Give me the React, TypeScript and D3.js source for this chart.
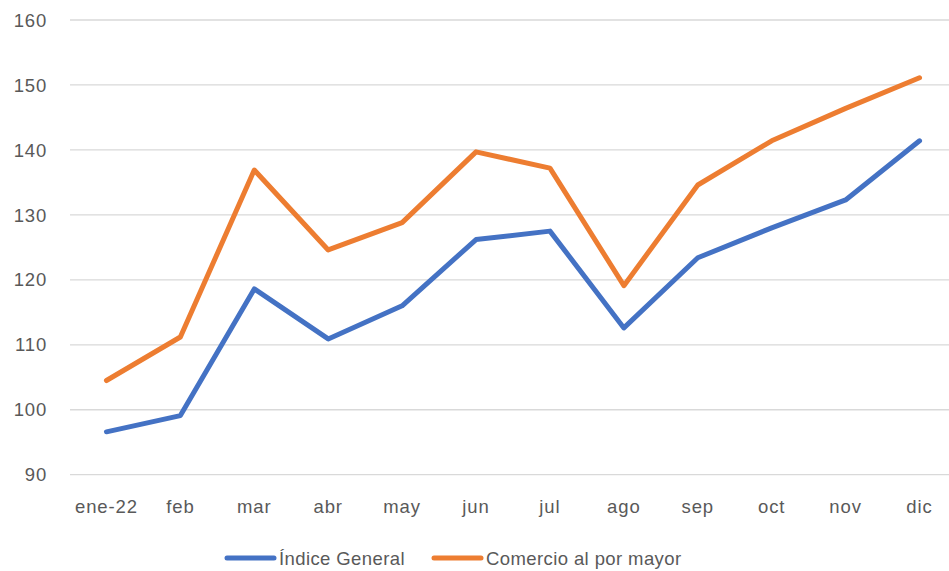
import React from "react";
import * as d3 from "d3";

const categories = ["ene-22", "feb", "mar", "abr", "may", "jun", "jul", "ago", "sep", "oct", "nov", "dic"];
const indiceGeneral = [96.6, 99.1, 118.6, 110.9, 116.0, 126.2, 127.5, 112.6, 123.4, 128.0, 132.3, 141.4];
const comercioMayor = [104.5, 111.2, 136.9, 124.6, 128.8, 139.7, 137.2, 119.1, 134.6, 141.4, 146.4, 151.1];
const yTicks = [90, 100, 110, 120, 130, 140, 150, 160];
const seriesNames = ["Índice General", "Comercio al por mayor"];

const W = 949;
const H = 571;
const FONT = "'Liberation Sans', Arial, sans-serif";
const TEXT = "#595959";

export default function App() {
  const x = d3.scalePoint<string>().domain(categories).range([69.5, 956.5]).padding(0.5);
  const y = d3.scaleLinear().domain([90, 160]).range([474.7, 20]);
  const line = d3
    .line<number>()
    .x((_, i) => x(categories[i]) as number)
    .y((d) => y(d));
  const series = [
    { name: seriesNames[0], values: indiceGeneral, color: "#4472C4" },
    { name: seriesNames[1], values: comercioMayor, color: "#ED7D31" },
  ];
  const legendX = [227, 434];
  return (
    <svg width={W} height={H} style={{ position: "absolute", left: 0, top: 0, background: "#fff" }}>
      {yTicks.map((t) => (
        <g key={t}>
          <line x1={70} x2={W} y1={y(t)} y2={y(t)} stroke="#D9D9D9" strokeWidth={1.3} />
          <text x={47} y={y(t)} dy="0.36em" textAnchor="end" fontFamily={FONT} fontSize={18.5} fill={TEXT} letterSpacing={0.8}>
            {t}
          </text>
        </g>
      ))}
      {categories.map((c) => (
        <text key={c} x={x(c)} y={513} textAnchor="middle" fontFamily={FONT} fontSize={18.5} fill={TEXT} letterSpacing={0.9}>
          {c}
        </text>
      ))}
      {series.map((s) => (
        <path key={s.name} d={line(s.values) || ""} fill="none" stroke={s.color} strokeWidth={5} strokeLinejoin="round" strokeLinecap="round" />
      ))}
      {series.map((s, i) => (
        <g key={s.name}>
          <line x1={legendX[i]} x2={legendX[i] + 47} y1={558} y2={558} stroke={s.color} strokeWidth={5} strokeLinecap="round" />
          <text x={legendX[i] + 52} y={558} dy="0.36em" fontFamily={FONT} fontSize={18.5} fill={TEXT} letterSpacing={0.4}>
            {s.name}
          </text>
        </g>
      ))}
    </svg>
  );
}
